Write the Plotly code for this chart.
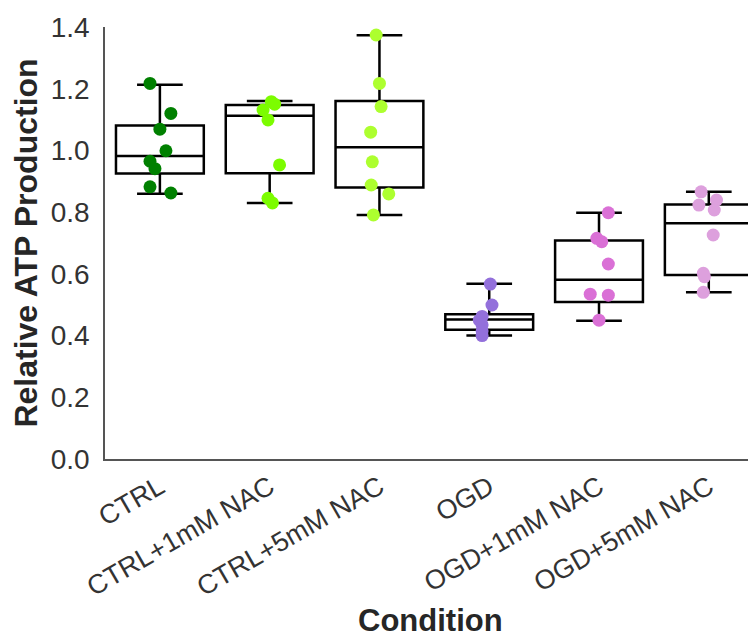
import plotly.graph_objects as go

categories = ["CTRL", "CTRL+1mM NAC", "CTRL+5mM NAC", "OGD", "OGD+1mM NAC", "OGD+5mM NAC"]
colors = ["#008000", "#7CFC00", "#ADFF2F", "#9370DB", "#DA70D6", "#DDA0DD"]

# box statistics per condition
q1 = [0.925, 0.926, 0.880, 0.419, 0.509, 0.596]
median = [0.982, 1.112, 1.010, 0.452, 0.581, 0.764]
q3 = [1.081, 1.147, 1.160, 0.469, 0.708, 0.825]
whisker_low = [0.860, 0.830, 0.791, 0.400, 0.448, 0.540]
whisker_high = [1.213, 1.160, 1.373, 0.568, 0.798, 0.866]

# individual measurements
ctrl = [1.217, 1.120, 1.069, 0.999, 0.965, 0.941, 0.882, 0.862]
ctrl_1mm = [1.158, 1.150, 1.131, 1.099, 0.953, 0.845, 0.830]
ctrl_5mm = [1.374, 1.217, 1.142, 1.059, 0.963, 0.888, 0.859, 0.791]
ogd = [0.567, 0.499, 0.462, 0.450, 0.435, 0.415, 0.400]
ogd_1mm = [0.798, 0.715, 0.704, 0.632, 0.534, 0.531, 0.450]
ogd_5mm = [0.866, 0.839, 0.823, 0.807, 0.726, 0.602, 0.591, 0.540]

# strip-plot jitter (category units)
jit_ctrl = [-0.09, 0.10, 0.0, 0.055, -0.09, -0.045, -0.09, 0.10]
jit_ctrl_1mm = [0.015, 0.045, -0.06, -0.015, 0.09, -0.015, 0.025]
jit_ctrl_5mm = [-0.03, 0.0, 0.015, -0.08, -0.065, -0.075, 0.085, -0.055]
jit_ogd = [0.01, 0.025, -0.065, -0.09, -0.065, -0.065, -0.065]
jit_ogd_1mm = [0.085, -0.02, 0.025, 0.085, -0.08, 0.085, 0.0]
jit_ogd_5mm = [-0.07, 0.07, -0.09, 0.05, 0.04, -0.05, -0.04, -0.05]

values = [ctrl, ctrl_1mm, ctrl_5mm, ogd, ogd_1mm, ogd_5mm]
jitters = [jit_ctrl, jit_ctrl_1mm, jit_ctrl_5mm, jit_ogd, jit_ogd_1mm, jit_ogd_5mm]

positions = list(range(len(categories)))

fig = go.Figure()
fig.add_trace(go.Box(
    x=positions, q1=q1, median=median, q3=q3,
    lowerfence=whisker_low, upperfence=whisker_high,
    width=0.8, whiskerwidth=0.52,
    fillcolor="rgba(255,255,255,0)",
    line=dict(color="black", width=2.5),
    boxpoints=False, showlegend=False, hoverinfo="skip",
))

for i, (vals, jit, col) in enumerate(zip(values, jitters, colors)):
    fig.add_trace(go.Scatter(
        x=[i + j for j in jit], y=vals, mode="markers",
        marker=dict(color=col, size=13, line=dict(width=0)),
        showlegend=False, name=categories[i],
    ))

font_family = "Liberation Sans, Arial, sans-serif"
fig.update_layout(
    width=748, height=633,
    margin=dict(l=97, r=0, t=19, b=182),
    plot_bgcolor="white", paper_bgcolor="white",
    font=dict(family=font_family, color="#333333"),
    xaxis=dict(
        range=[-0.5, 5.43], tickmode="array", tickvals=positions, ticktext=categories,
        tickangle=-30, tickfont=dict(size=27, color="#333333"),
        showline=True, linecolor="#555555", linewidth=1.5, mirror=False,
        showgrid=False, zeroline=False, ticks="", ticklabelstandoff=0,
        automargin=False,
    ),
    yaxis=dict(
        range=[0, 1.4], tickmode="array",
        tickvals=[0.0, 0.2, 0.4, 0.6, 0.8, 1.0, 1.2, 1.4],
        ticktext=["0.0", "0.2", "0.4", "0.6", "0.8", "1.0", "1.2", "1.4"],
        tickfont=dict(size=28, color="#333333"),
        showline=True, linecolor="#555555", linewidth=1.5,
        showgrid=False, zeroline=False, ticks="", ticklabelstandoff=8,
        automargin=False,
        title=dict(text="<b>Relative ATP Production</b>", font=dict(size=32, color="#262626"), standoff=7),
    ),
    annotations=[dict(
        text="<b>Condition</b>", xref="paper", yref="paper", x=0.5, y=-0.374,
        xanchor="center", yanchor="middle", showarrow=False,
        font=dict(size=31, color="#262626", family=font_family),
    )],
)

fig.write_html("out.html")
